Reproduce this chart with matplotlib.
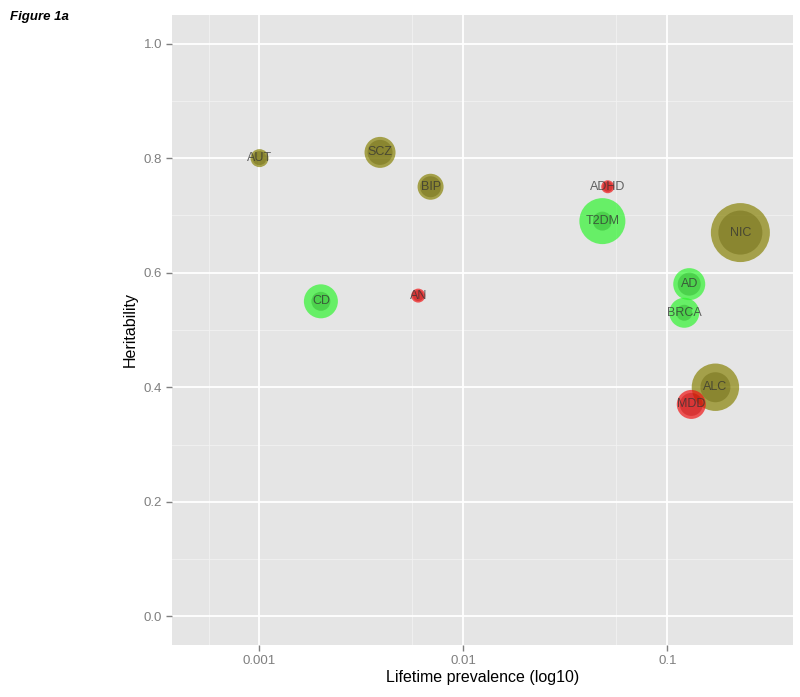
import matplotlib.pyplot as plt
import numpy as np

plt.rcParams['font.family'] = ['Liberation Sans', 'DejaVu Sans']

# data
traits = ['AUT', 'SCZ', 'BIP', 'ADHD', 'T2DM', 'NIC', 'CD', 'AN', 'AD', 'BRCA', 'ALC', 'MDD']
prevalence = [0.001, 0.0039, 0.0069, 0.051, 0.048, 0.228, 0.002, 0.006, 0.128, 0.121, 0.172, 0.131]
heritability = [0.80, 0.81, 0.75, 0.75, 0.69, 0.67, 0.55, 0.56, 0.58, 0.53, 0.40, 0.37]
group = ['psych', 'psych', 'psych', 'neuro', 'other', 'psych', 'other', 'neuro',
         'other', 'other', 'psych', 'neuro']
outer_size = [9, 15.5, 13, 6.5, 23, 29.5, 17, 7, 16, 15, 23.7, 14.5]
inner_size = [7, 12.5, 10.5, 5, 9.5, 22, 9.5, 5.5, 11.5, 8, 15, 11.5]

colours = {'psych': '#858000', 'other': '#2cf52c', 'neuro': '#f01010'}
inner_colours = {'psych': '#5a5600', 'other': '#1c9c1c', 'neuro': '#b80000'}

fig = plt.figure(figsize=(8, 6.97), dpi=100)
ax = fig.add_axes([0.215, 0.0746, 0.776, 0.904])
ax.set_facecolor('#e5e5e5')
ax.set_xscale('log')
ax.set_xlim(10 ** -3.429, 10 ** -0.385)
ax.set_ylim(-0.05, 1.05)

# grid like ggplot
for v in [10 ** -3.25, 10 ** -2.25, 10 ** -1.25]:
    ax.axvline(v, color='#f2f2f2', lw=0.6, zorder=0)
for v in [0.1, 0.3, 0.5, 0.7, 0.9]:
    ax.axhline(v, color='#f2f2f2', lw=0.6, zorder=0)
for v in [0.001, 0.01, 0.1]:
    ax.axvline(v, color='white', lw=1.3, zorder=0)
for v in [0, 0.2, 0.4, 0.6, 0.8, 1.0]:
    ax.axhline(v, color='white', lw=1.3, zorder=0)

s_outer = (1.44 * np.array(outer_size)) ** 2
s_inner = (1.44 * np.array(inner_size)) ** 2
ax.scatter(prevalence, heritability, s=s_outer, c=[colours[g] for g in group],
           alpha=0.68, lw=0, zorder=2)
ax.scatter(prevalence, heritability, s=s_inner, c=[inner_colours[g] for g in group],
           alpha=0.35, lw=0, zorder=3)

for t, x, y in zip(traits, prevalence, heritability):
    ax.text(x, y, t, ha='center', va='center', fontsize=9, color='#333333',
            alpha=0.75, zorder=4)

ax.set_xticks([0.001, 0.01, 0.1])
ax.set_xticklabels(['0.001', '0.01', '0.1'])
ax.xaxis.set_minor_locator(plt.NullLocator())
ax.set_yticks([0, 0.2, 0.4, 0.6, 0.8, 1.0])
ax.set_yticklabels(['0.0', '0.2', '0.4', '0.6', '0.8', '1.0'])
ax.tick_params(colors='#7f7f7f', labelsize=9.5, length=4, width=1, pad=3)
for sp in ax.spines.values():
    sp.set_visible(False)

ax.set_xlabel('Lifetime prevalence (log10)', fontsize=11.5, labelpad=2)
ax.set_ylabel('Heritability', fontsize=11.5, labelpad=4)

fig.text(0.012, 0.975, 'Figure 1a', fontsize=9.5, fontweight='bold', style='italic',
         ha='left', va='center')

fig.savefig('out.png', dpi=100)
